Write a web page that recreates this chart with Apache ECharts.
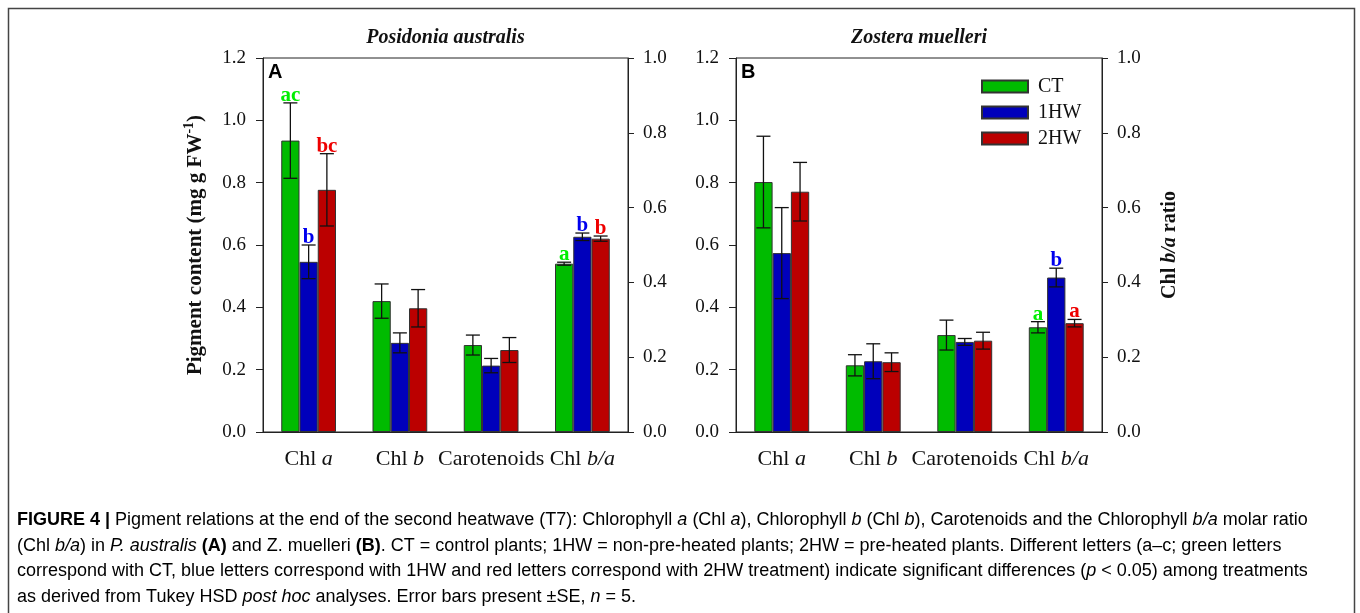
<!DOCTYPE html>
<html>
<head>
<meta charset="utf-8">
<script src="https://cdn.jsdelivr.net/npm/echarts@6/dist/echarts.min.js"></script>
<style>html,body{margin:0;padding:0;background:#fff;}#c{width:1360px;height:613px;}</style>
</head>
<body>
<div id="c"></div>
<script>
// ---------- DATA ----------
const categories = ['Chl a', 'Chl b', 'Carotenoids', 'Chl b/a'];
const treatments = ['CT', '1HW', '2HW'];
const yLeftTicks = [0, 0.2, 0.4, 0.6, 0.8, 1.0, 1.2];
const yRightTicks = [0, 0.2, 0.4, 0.6, 0.8, 1.0];

// Panel A: Posidonia australis — pigments (Chl a, Chl b, Carotenoids), mg g FW-1
const aCT  = [0.935, 0.420, 0.279];
const a1HW = [0.546, 0.286, 0.213];
const a2HW = [0.777, 0.397, 0.263];
const aCTse  = [0.121, 0.055, 0.032];
const a1HWse = [0.054, 0.032, 0.023];
const a2HWse = [0.116, 0.060, 0.040];
const aCTlet  = ['ac', '', ''];
const a1HWlet = ['b', '', ''];
const a2HWlet = ['bc', '', ''];
// Panel A: Chl b/a ratio (CT, 1HW, 2HW)
const aRatio   = [0.450, 0.522, 0.517];
const aRatioSe = [0.004, 0.010, 0.007];
const aRatioLet = ['a', 'b', 'b'];

// Panel B: Zostera muelleri — pigments
const bCT  = [0.802, 0.214, 0.311];
const b1HW = [0.574, 0.227, 0.289];
const b2HW = [0.771, 0.224, 0.293];
const bCTse  = [0.147, 0.034, 0.048];
const b1HWse = [0.146, 0.056, 0.011];
const b2HWse = [0.094, 0.030, 0.027];
const bCTlet  = ['', '', ''];
const b1HWlet = ['', '', ''];
const b2HWlet = ['', '', ''];
// Panel B: Chl b/a ratio
const bRatio   = [0.280, 0.413, 0.291];
const bRatioSe = [0.015, 0.025, 0.010];
const bRatioLet = ['a', 'b', 'a'];

// ---------- STYLE ----------
const SERIF = 'Liberation Serif';
const SANS = 'Liberation Sans';
const barColors = ['#00BB00', '#0000BB', '#BB0000'];
const letterColors = ['#00EE00', '#0000EE', '#EE0000'];
const axisColor = '#222';

const panels = [
  { pig: [aCT, a1HW, a2HW], se: [aCTse, a1HWse, a2HWse], let: [aCTlet, a1HWlet, a2HWlet],
    ratio: aRatio, ratioSe: aRatioSe, ratioLet: aRatioLet },
  { pig: [bCT, b1HW, b2HW], se: [bCTse, b1HWse, b2HWse], let: [bCTlet, b1HWlet, b2HWlet],
    ratio: bRatio, ratioSe: bRatioSe, ratioLet: bRatioLet }
];

const grids = [
  { left: 263, top: 58, width: 365, height: 374 },
  { left: 736, top: 58, width: 366, height: 374 }
];

function catFormatter(v) {
  const m = v.match(/^(Chl )(.+)$/);
  return m ? '{n|' + m[1] + '}{i|' + m[2] + '}' : '{n|' + v + '}';
}

const xAxes = grids.map((g, p) => ({
  type: 'category', gridIndex: p, data: categories,
  axisLine: { lineStyle: { color: axisColor, width: 1 } },
  axisTick: { alignWithLabel: true, length: 6, lineStyle: { color: axisColor } },
  axisLabel: {
    margin: 16, formatter: catFormatter, interval: 0,
    rich: {
      n: { fontFamily: SERIF, fontSize: 22, color: '#111' },
      i: { fontFamily: SERIF, fontSize: 22, color: '#111', fontStyle: 'italic' }
    }
  },
  splitLine: { show: false }
}));

const yAxes = [];
grids.forEach((g, p) => {
  yAxes.push({
    type: 'value', gridIndex: p, position: 'left',
    min: yLeftTicks[0], max: yLeftTicks[yLeftTicks.length - 1], interval: yLeftTicks[1] - yLeftTicks[0],
    axisLine: { show: true, lineStyle: { color: axisColor } },
    axisTick: { show: true, length: 7, lineStyle: { color: axisColor } },
    axisLabel: { margin: 17, fontFamily: SERIF, fontSize: 19, color: '#111', formatter: v => v.toFixed(1) },
    splitLine: { show: false },
    name: p === 0 ? '{b|Pigment content (mg g FW}{s|-1}{b|)}' : '',
    nameLocation: 'middle', nameRotate: 90, nameGap: 54,
    nameTextStyle: {
      rich: {
        b: { fontFamily: SERIF, fontSize: 21, fontWeight: 'bold', color: '#111', lineHeight: 27 },
        s: { fontFamily: SERIF, fontSize: 14, fontWeight: 'bold', color: '#111', verticalAlign: 'top', lineHeight: 14 }
      }
    }
  });
  yAxes.push({
    type: 'value', gridIndex: p, position: 'right',
    min: yRightTicks[0], max: yRightTicks[yRightTicks.length - 1], interval: yRightTicks[1] - yRightTicks[0],
    axisLine: { show: true, lineStyle: { color: axisColor } },
    axisTick: { show: true, length: 6, lineStyle: { color: axisColor } },
    axisLabel: { margin: 15, fontFamily: SERIF, fontSize: 19, color: '#111', formatter: v => v.toFixed(1) },
    splitLine: { show: false },
    name: p === 1 ? '{b|Chl }{bi|b/a}{b| ratio}' : '',
    nameLocation: 'middle', nameRotate: 90, nameGap: 58,
    nameTextStyle: {
      rich: {
        b: { fontFamily: SERIF, fontSize: 20, fontWeight: 'bold', color: '#111' },
        bi: { fontFamily: SERIF, fontSize: 20, fontWeight: 'bold', fontStyle: 'italic', color: '#111' }
      }
    }
  });
});

function errSeries(p, yIdx, items, letters) {
  return {
    type: 'custom', coordinateSystem: 'cartesian2d', xAxisIndex: p, yAxisIndex: yIdx,
    silent: true, z: 5, clip: false,
    data: items,
    renderItem: function (params, api) {
      const cat = api.value(0), mean = api.value(1), se = api.value(2), t = api.value(3);
      const band = api.size([1, 0])[0];
      const off = (t - 1) * band * 0.2;
      const top = api.coord([cat, mean + se]);
      const bot = api.coord([cat, mean - se]);
      const x = top[0] + off;
      const hw = 7;
      const ls = { stroke: '#111', lineWidth: 1.3 };
      const children = [
        { type: 'line', shape: { x1: x, y1: top[1], x2: x, y2: bot[1] }, style: ls },
        { type: 'line', shape: { x1: x - hw, y1: top[1], x2: x + hw, y2: top[1] }, style: ls },
        { type: 'line', shape: { x1: x - hw, y1: bot[1], x2: x + hw, y2: bot[1] }, style: ls }
      ];
      const lt = letters[params.dataIndex];
      if (lt) {
        children.push({
          type: 'text', x: x, y: top[1] + 3,
          style: { text: lt, fill: letterColors[t], font: 'bold 21px "' + SERIF + '"',
                   align: 'center', verticalAlign: 'bottom', textAlign: 'center', textVerticalAlign: 'bottom' }
        });
      }
      return { type: 'group', children: children };
    }
  };
}

const series = [];
panels.forEach((pd, p) => {
  treatments.forEach((tn, t) => {
    const common = {
      type: 'bar', name: tn, xAxisIndex: p, stack: 'p' + p + 't' + t,
      barGap: '0%', barCategoryGap: '40%',
      itemStyle: { color: barColors[t], borderColor: '#333', borderWidth: 1 },
      emphasis: { disabled: true }
    };
    series.push(Object.assign({}, common, { yAxisIndex: 2 * p, data: pd.pig[t].concat([null]) }));
    series.push(Object.assign({}, common, { yAxisIndex: 2 * p + 1,
      data: categories.map((c, i) => i === categories.length - 1 ? pd.ratio[t] : null) }));
  });
  const pigItems = [], pigLet = [];
  treatments.forEach((tn, t) => {
    pd.pig[t].forEach((v, i) => { pigItems.push([i, v, pd.se[t][i], t]); pigLet.push(pd.let[t][i]); });
  });
  series.push(errSeries(p, 2 * p, pigItems, pigLet));
  const rItems = treatments.map((tn, t) => [categories.length - 1, pd.ratio[t], pd.ratioSe[t], t]);
  series.push(errSeries(p, 2 * p + 1, rItems, pd.ratioLet));
});

// ---------- CAPTION ----------
const captionLines = [
  '{b|FIGURE 4 |}{r| Pigment relations at the end of the second heatwave (T7): Chlorophyll }{i|a}{r| (Chl }{i|a}{r|), Chlorophyll }{i|b}{r| (Chl }{i|b}{r|), Carotenoids and the Chlorophyll }{i|b/a}{r| molar ratio}',
  '{r|(Chl }{i|b/a}{r|) in }{i|P. australis}{r| }{b|(A)}{r| and Z. muelleri }{b|(B)}{r|. CT = control plants; 1HW = non-pre-heated plants; 2HW = pre-heated plants. Different letters (a–c; green letters}',
  '{r|correspond with CT, blue letters correspond with 1HW and red letters correspond with 2HW treatment) indicate significant differences (}{i|p}{r| < 0.05) among treatments}',
  '{r|as derived from Tukey HSD }{i|post hoc}{r| analyses. Error bars present ±SE, }{i|n}{r| = 5.}'
];
const CAPFS = 18;
const capRich = {
  r: { fontFamily: SANS, fontSize: CAPFS, color: '#3a3a3a' },
  i: { fontFamily: SANS, fontSize: CAPFS, color: '#3a3a3a', fontStyle: 'italic' },
  b: { fontFamily: SANS, fontSize: CAPFS, color: '#222', fontWeight: 'bold' }
};
const capY = [520, 546, 571, 597];

const graphic = [
  { type: 'rect', silent: true, z: -10, shape: { x: 8.5, y: 8.5, width: 1346, height: 700 },
    style: { fill: 'none', stroke: '#444', lineWidth: 1.5 } },
  { type: 'text', silent: true, x: 445.5, y: 38,
    style: { text: 'Posidonia australis', font: 'italic bold 20px "' + SERIF + '"', fill: '#111',
             align: 'center', verticalAlign: 'middle', textAlign: 'center', textVerticalAlign: 'middle' } },
  { type: 'text', silent: true, x: 919, y: 38,
    style: { text: 'Zostera muelleri', font: 'italic bold 20px "' + SERIF + '"', fill: '#111',
             align: 'center', verticalAlign: 'middle', textAlign: 'center', textVerticalAlign: 'middle' } },
  { type: 'text', silent: true, x: 268, y: 72,
    style: { text: 'A', font: 'bold 20px "' + SANS + '"', fill: '#000', align: 'left', verticalAlign: 'middle', textVerticalAlign: 'middle' } },
  { type: 'text', silent: true, x: 741, y: 72,
    style: { text: 'B', font: 'bold 20px "' + SANS + '"', fill: '#000', align: 'left', verticalAlign: 'middle', textVerticalAlign: 'middle' } }
].concat(captionLines.map((ln, k) => ({
  type: 'text', silent: true, x: 17, y: capY[k],
  style: { text: ln, rich: capRich, align: 'left', verticalAlign: 'middle', textVerticalAlign: 'middle' }
})));

const option = {
  animation: false,
  backgroundColor: '#fff',
  grid: grids.map(g => Object.assign({ show: true, borderColor: axisColor, borderWidth: 1, backgroundColor: 'transparent', containLabel: false, outerBoundsMode: 'none' }, g)),
  xAxis: xAxes,
  yAxis: yAxes,
  legend: {
    orient: 'vertical', left: 981, top: 76, padding: 0, itemWidth: 46, itemHeight: 12, itemGap: 5,
    icon: 'rect', data: treatments, selectedMode: false,
    textStyle: { fontFamily: SERIF, fontSize: 20, color: '#111', padding: [0, 0, 0, 5], lineHeight: 21 }
  },
  series: series,
  graphic: graphic
};

const chart = echarts.init(document.getElementById('c'), null, { renderer: 'canvas' });
chart.setOption(option);
</script>
</body>
</html>
